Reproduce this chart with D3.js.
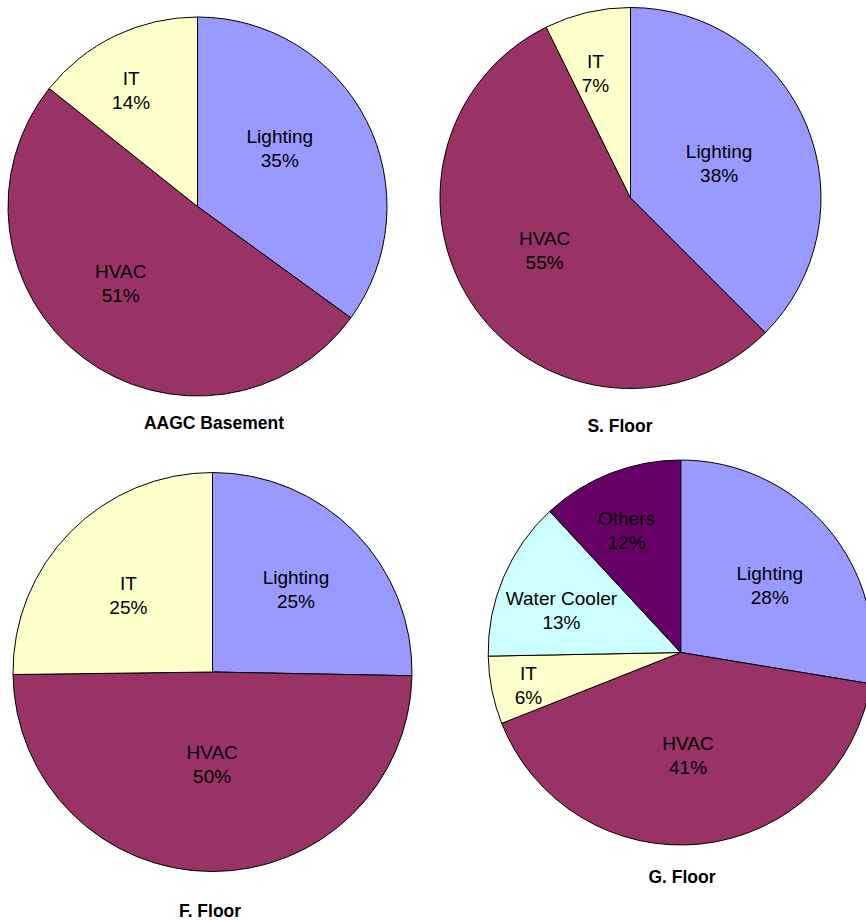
<!DOCTYPE html>
<html>
<head>
<meta charset="utf-8">
<script src="https://cdn.jsdelivr.net/npm/d3@7"></script>
<style>
  html, body { margin: 0; padding: 0; background: #fff; }
  svg { display: block; }
</style>
</head>
<body>
<svg id="chart" width="866" height="921"></svg>
<script>
// ---- Data ----
const chartTitles = ["AAGC Basement", "S. Floor", "F. Floor", "G. Floor"];

const basementCategories = ["Lighting", "HVAC", "IT"];
const basementValues = [35.0, 50.7, 14.3];

const sFloorCategories = ["Lighting", "HVAC", "IT"];
const sFloorValues = [37.5, 55.2, 7.3];

const fFloorCategories = ["Lighting", "HVAC", "IT"];
const fFloorValues = [25.3, 49.5, 25.2];

const gFloorCategories = ["Lighting", "HVAC", "IT", "Water Cooler", "Others"];
const gFloorValues = [27.6, 41.4, 5.7, 13.4, 11.9];

// ---- Styles / layout ----
const colorScale = d3.scaleOrdinal()
  .domain(["Lighting", "HVAC", "IT", "Water Cooler", "Others"])
  .range(["#9999FF", "#993366", "#FFFFCC", "#CCFFFF", "#660066"]);

const layouts = [
  { cx: 197.5, cy: 206.5, r: 189.5, tx: 214, ty: 423,
    nudges: [[-19, -6], [-8, -13], [-17, -14]] },
  { cx: 630.5, cy: 198, r: 190.5, tx: 620, ty: 426,
    nudges: [[-17, 9], [7, -14], [-9, -13]] },
  { cx: 212.5, cy: 672, r: 199.5, tx: 210, ty: 911,
    nudges: [[-2, 1], [0, -27], [1, 8]] },
  { cx: 680.7, cy: 652.5, r: 192.5, tx: 682, ty: 877,
    nudges: [[1, 8], [-5, -12], [-39, 10], [-13, 3], [-12, -14]] }
];

const charts = [
  { cats: basementCategories, vals: basementValues },
  { cats: sFloorCategories, vals: sFloorValues },
  { cats: fFloorCategories, vals: fFloorValues },
  { cats: gFloorCategories, vals: gFloorValues }
];

const svg = d3.select("#chart");
const fontFamily = "'Liberation Sans', Arial, Helvetica, sans-serif";

const pie = d3.pie().sort(null).value(d => d.value);

charts.forEach((c, i) => {
  const L = layouts[i];
  const data = c.cats.map((cat, j) => ({ cat, value: c.vals[j] }));
  const total = d3.sum(c.vals);
  const arcs = pie(data);
  const arc = d3.arc().innerRadius(0).outerRadius(L.r);
  const labelArc = d3.arc().innerRadius(L.r * 0.6).outerRadius(L.r * 0.6);

  const g = svg.append("g").attr("transform", `translate(${L.cx},${L.cy})`);

  g.selectAll("path.slice")
    .data(arcs)
    .join("path")
    .attr("class", "slice")
    .attr("d", arc)
    .attr("fill", d => colorScale(d.data.cat))
    .attr("stroke", "#000")
    .attr("stroke-width", 1)
    .attr("stroke-linejoin", "round");

  const labels = g.selectAll("text.lbl")
    .data(arcs)
    .join("text")
    .attr("class", "lbl")
    .attr("text-anchor", "middle")
    .attr("font-family", fontFamily)
    .attr("font-size", "19px")
    .attr("fill", "#000")
    .attr("transform", (d, j) => {
      const [x, y] = labelArc.centroid(d);
      const n = L.nudges[j] || [0, 0];
      return `translate(${x + n[0]},${y + n[1]})`;
    });

  labels.append("tspan")
    .attr("x", 0)
    .attr("y", -12)
    .attr("dominant-baseline", "central")
    .text(d => d.data.cat);

  labels.append("tspan")
    .attr("x", 0)
    .attr("y", 12)
    .attr("dominant-baseline", "central")
    .text(d => Math.round(d.data.value / total * 100) + "%");

  svg.append("text")
    .attr("x", L.tx)
    .attr("y", L.ty)
    .attr("text-anchor", "middle")
    .attr("dominant-baseline", "central")
    .attr("font-family", fontFamily)
    .attr("font-size", "17.5px")
    .attr("font-weight", "bold")
    .attr("fill", "#000")
    .text(chartTitles[i]);
});
</script>
</body>
</html>
